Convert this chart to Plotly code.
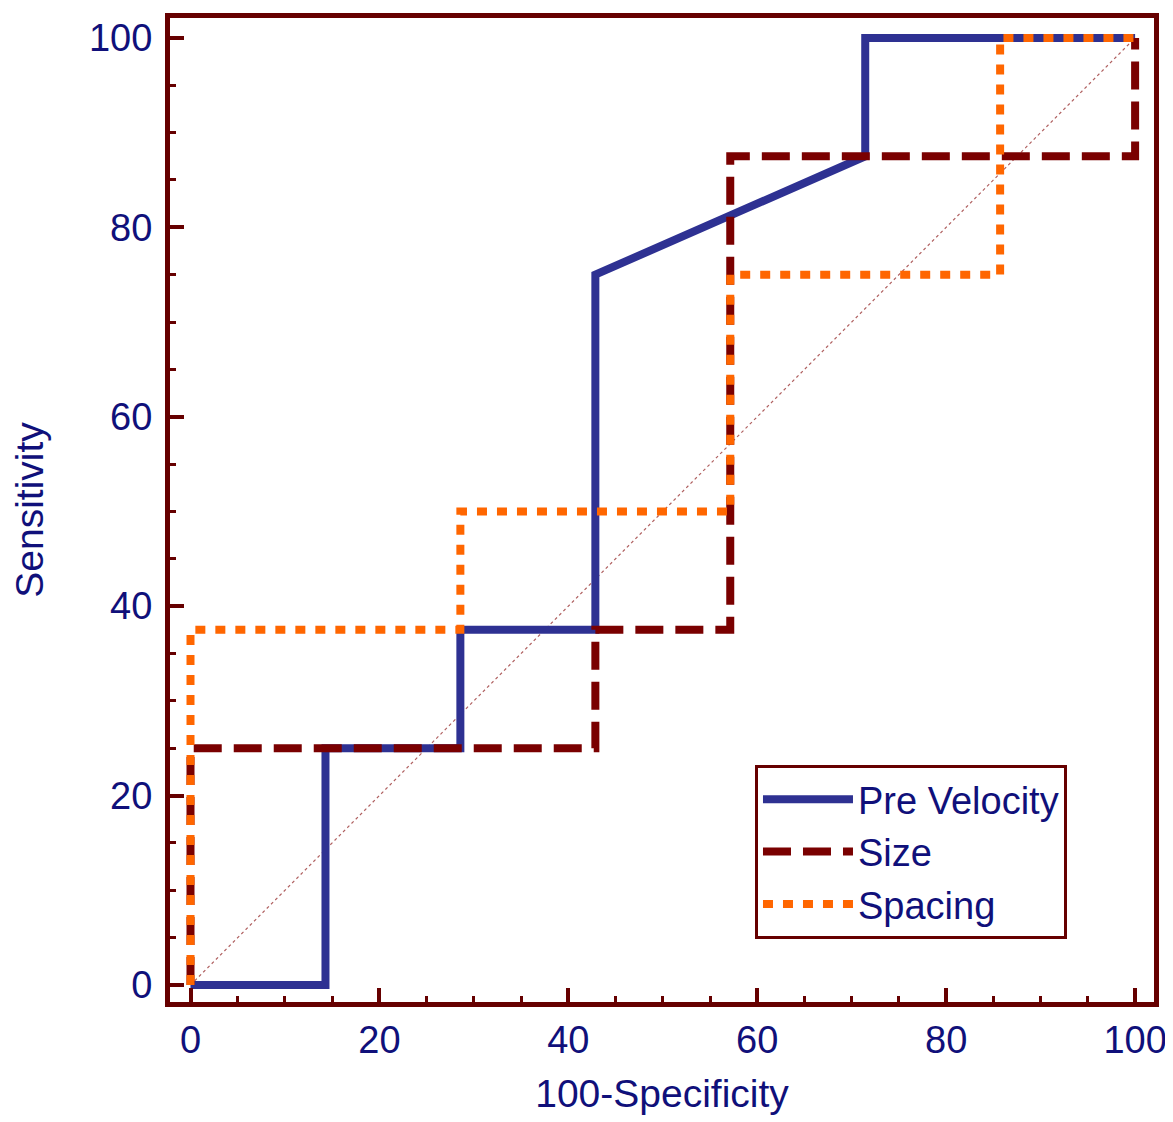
import plotly.graph_objects as go

# ROC curve data (100-Specificity vs Sensitivity)
pre_velocity_x = [0, 14.29, 14.29, 28.57, 28.57, 42.86, 42.86, 71.43, 71.43, 100]
pre_velocity_y = [0, 0, 25, 25, 37.5, 37.5, 75, 87.5, 100, 100]

size_x = [0, 0, 42.86, 42.86, 57.14, 57.14, 100, 100]
size_y = [0, 25, 25, 37.5, 37.5, 87.5, 87.5, 100]

spacing_x = [0, 0, 28.57, 28.57, 57.14, 57.14, 85.71, 85.71, 100]
spacing_y = [0, 37.5, 37.5, 50, 50, 75, 75, 100, 100]

diag_x = [0, 100]
diag_y = [0, 100]

tick_vals = [0, 20, 40, 60, 80, 100]

FRAME = "#660000"
TEXT = "#10107a"
FONT = "Liberation Sans, Arial, sans-serif"

fig = go.Figure()
fig.add_trace(go.Scatter(x=diag_x, y=diag_y, mode="lines", showlegend=False,
                         line=dict(color="#b06060", width=1.2, dash="dot")))
fig.add_trace(go.Scatter(x=pre_velocity_x, y=pre_velocity_y, mode="lines", name="Pre Velocity",
                         line=dict(color="#2e3192", width=8)))
fig.add_trace(go.Scatter(x=size_x, y=size_y, mode="lines", name="Size",
                         line=dict(color="#7a0000", width=8, dash="28px,12px")))
fig.add_trace(go.Scatter(x=spacing_x, y=spacing_y, mode="lines", name="Spacing",
                         line=dict(color="#ff6600", width=8, dash="10px,10px")))

axis_common = dict(
    automargin=False,
    showgrid=False, zeroline=False, showline=True, linecolor=FRAME, linewidth=5, mirror=True,
    ticks="inside", ticklen=14, tickwidth=4, tickcolor=FRAME,
    tickvals=tick_vals,
    tickfont=dict(family=FONT, size=38, color=TEXT),
    minor=dict(dtick=5, ticks="inside", ticklen=6, tickwidth=3, tickcolor=FRAME),
)

fig.update_xaxes(range=[-2.17, 102.0], title=dict(text="100-Specificity", standoff=22,
                 font=dict(family=FONT, size=39, color=TEXT)), ticklabelstandoff=0, **axis_common)
fig.update_yaxes(range=[-1.8, 102.1], title=dict(text="Sensitivity", standoff=40,
                 font=dict(family=FONT, size=39, color=TEXT)), ticklabelstandoff=5, **axis_common)

fig.update_layout(
    width=1165, height=1114,
    margin=dict(l=162, r=19, t=10, b=120),
    plot_bgcolor="white", paper_bgcolor="white",
    legend=dict(x=0.5945, y=0.2409, xanchor="left", yanchor="top",
                bordercolor=FRAME, borderwidth=3, bgcolor="white",
                font=dict(family=FONT, size=38, color=TEXT), itemwidth=90,
                entrywidth=240, entrywidthmode="pixels"),
)

fig.write_html("out.html")
